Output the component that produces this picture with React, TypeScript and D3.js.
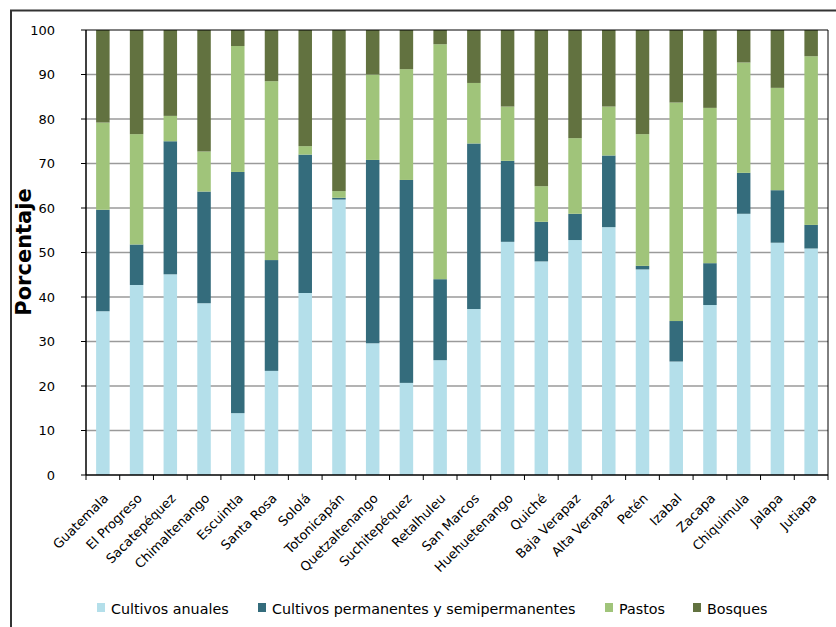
import React from "react";
import * as d3 from "d3";

const categories = ["Guatemala","El Progreso","Sacatepéquez","Chimaltenango","Escuintla","Santa Rosa","Sololá","Totonicapán","Quetzaltenango","Suchitepéquez","Retalhuleu","San Marcos","Huehuetenango","Quiché","Baja Verapaz","Alta Verapaz","Petén","Izabal","Zacapa","Chiquimula","Jalapa","Jutiapa"];
const seriesNames = ["Cultivos anuales","Cultivos permanentes y semipermanentes","Pastos","Bosques"];
const anuales = [36.8,42.7,45.1,38.6,13.9,23.4,40.9,61.9,29.6,20.7,25.8,37.3,52.4,48.0,52.8,55.7,46.2,25.5,38.2,58.7,52.2,50.9];
const permanentes = [22.8,9.1,29.9,25.1,54.2,24.9,31.1,0.4,41.2,45.6,18.2,37.2,18.2,8.9,5.9,16.1,0.8,9.1,9.4,9.2,11.8,5.3];
const pastos = [19.6,24.8,5.7,9.0,28.3,40.2,1.9,1.5,19.2,24.9,52.8,13.6,12.2,8.0,17.0,11.0,29.6,49.1,34.9,24.8,23.0,37.9];
const bosques = [20.8,23.4,19.3,27.3,3.6,11.5,26.1,36.2,10.0,8.8,3.2,11.9,17.2,35.1,24.3,17.2,23.4,16.3,17.5,7.3,13.0,5.9];
const yTicks = [0,10,20,30,40,50,60,70,80,90,100];
const colors = ["#b4dfea","#346c7c","#a0c47a","#627240"];
const yTitle = "Porcentaje";

const W = 836, H = 627;
const left = 86, right = 828, top = 30, bottom = 475;
const FONT = "'DejaVu Sans', Verdana, sans-serif";

export default function App() {
  const rows = categories.map((c, i) => ({ cat: c, s0: anuales[i], s1: permanentes[i], s2: pastos[i], s3: bosques[i] }));
  const keys = ["s0","s1","s2","s3"];
  const stacked = d3.stack<any>().keys(keys)(rows);
  const x = d3.scaleBand().domain(categories).range([left, right]).paddingInner(0.6).paddingOuter(0.3);
  const xb = d3.scaleBand().domain(categories).range([left, right]);
  const y = d3.scaleLinear().domain([0, 100]).range([bottom, top]);

  const legendX = [97, 258, 605, 693];

  return (
    <svg width={W} height={H} style={{ position: "absolute", left: 0, top: 0, background: "#fff" }} fontFamily={FONT}>
      <rect x={11} y={10.5} width={900} height={700} fill="#fff" stroke="#333" strokeWidth={2} />
      {yTicks.slice(1, -1).map(t => (
        <line key={t} x1={left} x2={right} y1={y(t)} y2={y(t)} stroke="#9a9a9a" strokeWidth={1.5} />
      ))}
      {stacked.map((s, si) => (
        <g key={si} fill={colors[si]}>
          {s.map((d, i) => (
            <rect key={i} x={x(categories[i])} width={x.bandwidth()} y={y(d[1])} height={y(d[0]) - y(d[1])} />
          ))}
        </g>
      ))}
      <line x1={left} x2={right} y1={top} y2={top} stroke="#000" />
      <line x1={right} x2={right} y1={top} y2={bottom} stroke="#000" />
      <line x1={left} x2={left} y1={top} y2={bottom} stroke="#000" strokeWidth={1.5} />
      <line x1={left} x2={right} y1={bottom} y2={bottom} stroke="#000" strokeWidth={1.5} />
      {yTicks.map(t => (
        <g key={t}>
          <line x1={left - 5} x2={left} y1={y(t)} y2={y(t)} stroke="#000" />
          <text x={55} y={y(t)} dy="0.36em" textAnchor="end" fontSize={13} fill="#000">{t}</text>
        </g>
      ))}
      {categories.map((c, i) => (
        <line key={"t" + i} x1={xb(c)} x2={xb(c)} y1={bottom} y2={bottom + 5} stroke="#000" />
      ))}
      <line x1={right} x2={right} y1={bottom} y2={bottom + 5} stroke="#000" />
      {categories.map((c, i) => {
        const cx = (xb(c) as number) + xb.bandwidth() / 2;
        return (
          <text key={"l" + i} transform={`translate(${cx + 3},${bottom + 21}) rotate(-45)`} textAnchor="end" dy="0.35em" fontSize={13} fill="#000">{c}</text>
        );
      })}
      <text transform={`translate(31,252) rotate(-90)`} textAnchor="middle" fontSize={21} fontWeight="bold" fill="#000">{yTitle}</text>
      {seriesNames.map((n, i) => (
        <g key={n}>
          <rect x={legendX[i]} y={603} width={8} height={9} fill={colors[i]} />
          <text x={legendX[i] + 14} y={614} fontSize={14.3} fill="#000">{n}</text>
        </g>
      ))}
    </svg>
  );
}
